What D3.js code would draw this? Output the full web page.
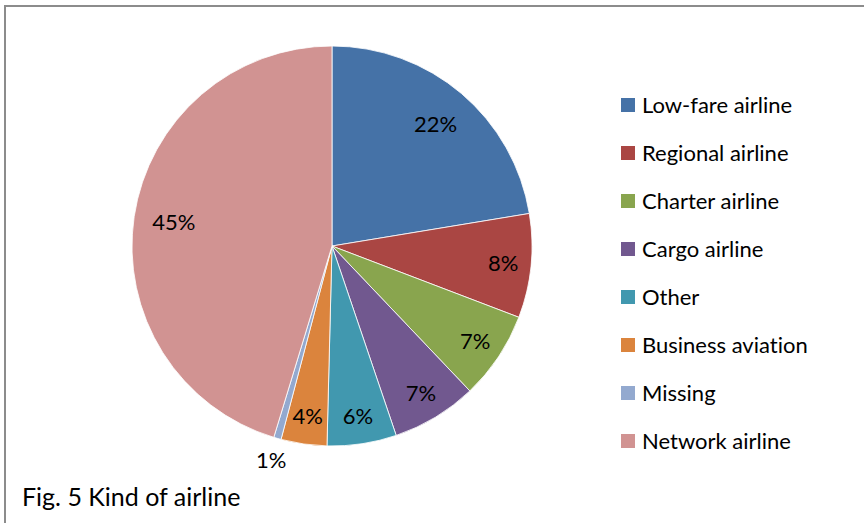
<!DOCTYPE html>
<html>
<head>
<meta charset="utf-8">
<script src="https://cdn.jsdelivr.net/npm/d3@7"></script>
<style>
  body { margin: 0; background: #fff; }
  text { font-family: Lato, "Open Sans", sans-serif; font-variant-ligatures: none; font-feature-settings: "liga" 0, "dlig" 0; }
</style>
</head>
<body>
<svg width="864" height="523"></svg>
<script>
var categories = ["Low-fare airline", "Regional airline", "Charter airline", "Cargo airline",
  "Other", "Business aviation", "Missing", "Network airline"];
var shares = [22.4, 8.4, 7.1, 6.9, 5.6, 3.7, 0.6, 45.3];
var colors = ["#4572A7", "#AA4643", "#89A54E", "#71588F", "#4198AF", "#DB843D", "#93A9CF", "#D19392"];
var title = "Fig. 5 Kind of airline";

var svg = d3.select("svg"),
  width = +svg.attr("width"),
  height = +svg.attr("height");

// chart frame (only top and left edges visible in the shot)
svg.append("path")
  .attr("d", "M5,523 V6 H864")
  .attr("fill", "none")
  .attr("stroke", "#8c8c8c")
  .attr("stroke-width", 2);

var cx = 332, cy = 246, radius = 200;

var data = categories.map(function (c, i) {
  return { name: c, value: shares[i], color: colors[i] };
});

var pie = d3.pie().sort(null).value(function (d) { return d.value; });
var arc = d3.arc().innerRadius(0).outerRadius(radius);

var g = svg.append("g").attr("transform", "translate(" + cx + "," + cy + ")");
var arcs = pie(data);

g.selectAll("path.slice")
  .data(arcs)
  .enter()
  .append("path")
  .attr("class", "slice")
  .attr("d", arc)
  .attr("fill", function (d) { return d.data.color; })
  .attr("stroke", "#fff")
  .attr("stroke-width", 0.8);

function labelRadius(d) {
  if (d.data.value < 2) return radius + 23;
  if (d.data.value > 15) return radius * 0.8;
  return radius * 0.86;
}

g.selectAll("text.lbl")
  .data(arcs)
  .enter()
  .append("text")
  .attr("class", "lbl")
  .attr("transform", function (d) {
    var r = labelRadius(d);
    return "translate(" + d3.arc().innerRadius(r).outerRadius(r).centroid(d) + ")";
  })
  .attr("text-anchor", "middle")
  .attr("dy", "0.35em")
  .attr("font-size", 22)
  .attr("fill", "#000")
  .text(function (d) { return Math.round(d.data.value) + "%"; });

// legend
var legendY = d3.scaleBand().domain(categories).range([81, 465]);
var legend = svg.append("g");
var items = legend.selectAll("g")
  .data(data)
  .enter()
  .append("g")
  .attr("transform", function (d) {
    return "translate(621," + (legendY(d.name) + legendY.bandwidth() / 2) + ")";
  });
items.append("rect")
  .attr("x", 0).attr("y", -7)
  .attr("width", 14).attr("height", 14)
  .attr("fill", function (d) { return d.color; });
items.append("text")
  .attr("x", 21)
  .attr("dy", "0.36em")
  .attr("font-size", 22)
  .attr("fill", "#000")
  .text(function (d) { return d.name; });

svg.append("text")
  .attr("x", 22)
  .attr("y", 506)
  .attr("font-size", 25)
  .attr("fill", "#000")
  .text(title);
</script>
</body>
</html>
